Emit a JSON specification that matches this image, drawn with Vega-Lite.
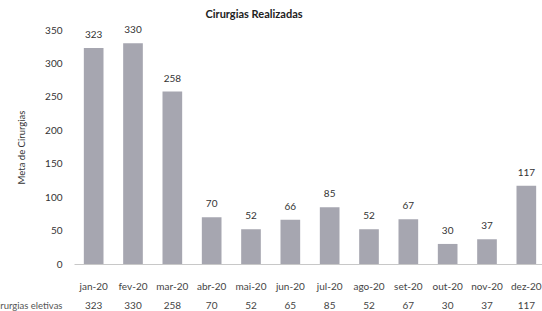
{
  "$schema": "https://vega.github.io/schema/vega-lite/v6.json",
  "width": 472,
  "height": 234,
  "autosize": {"type": "none"},
  "padding": {"left": 74, "top": 30, "right": 0, "bottom": 47},
  "background": "white",
  "config": {"view": {"stroke": null}, "font": "Lato"},
  "title": {"text": "Cirurgias Realizadas", "font": "Lato", "fontSize": 11, "fontWeight": "bold", "color": "#222", "anchor": "middle", "dx": -56, "offset": 5},
  "data": {"values": [
    {"eixo": "jan-20|323", "cirurgias": 323},
    {"eixo": "fev-20|330", "cirurgias": 330},
    {"eixo": "mar-20|258", "cirurgias": 258},
    {"eixo": "abr-20|70", "cirurgias": 70},
    {"eixo": "mai-20|52", "cirurgias": 52},
    {"eixo": "jun-20|65", "cirurgias": 66},
    {"eixo": "jul-20|85", "cirurgias": 85},
    {"eixo": "ago-20|52", "cirurgias": 52},
    {"eixo": "set-20|67", "cirurgias": 67},
    {"eixo": "out-20|30", "cirurgias": 30},
    {"eixo": "nov-20|37", "cirurgias": 37},
    {"eixo": "dez-20|117", "cirurgias": 117}
  ]},
  "encoding": {
    "x": {
      "field": "eixo", "type": "nominal", "sort": null,
      "scale": {"paddingInner": 0.5, "paddingOuter": 0.25},
      "axis": {
        "labelExpr": "split(datum.label, '|')",
        "labelAngle": 0, "labelFontSize": 10, "labelColor": "#444",
        "labelLineHeight": 19, "labelBaseline": "top", "labelPadding": 17,
        "ticks": false, "domainColor": "#c8c8c8",
        "title": "Cirurgias eletivas", "titleX": -12, "titleY": 41,
        "titleAlign": "right", "titleBaseline": "middle", "titleAngle": 0,
        "titleFontWeight": "normal", "titleFontSize": 9.5, "titleColor": "#555"
      }
    },
    "y": {
      "field": "cirurgias", "type": "quantitative",
      "scale": {"domain": [0, 350], "nice": false},
      "axis": {
        "values": [0, 50, 100, 150, 200, 250, 300, 350],
        "grid": false, "domain": false, "ticks": false,
        "labelPadding": 12, "labelFontSize": 10, "labelColor": "#333",
        "title": "Meta de Cirurgias", "titleFontSize": 9.5, "titleFontWeight": "normal",
        "titleColor": "#333", "titlePadding": 18
      }
    }
  },
  "layer": [
    {"mark": {"type": "bar", "color": "#a6a6b0"}},
    {"mark": {"type": "text", "baseline": "middle", "dy": -13, "fontSize": 10, "color": "#333"},
     "encoding": {"text": {"field": "cirurgias", "type": "quantitative"}}}
  ]
}
